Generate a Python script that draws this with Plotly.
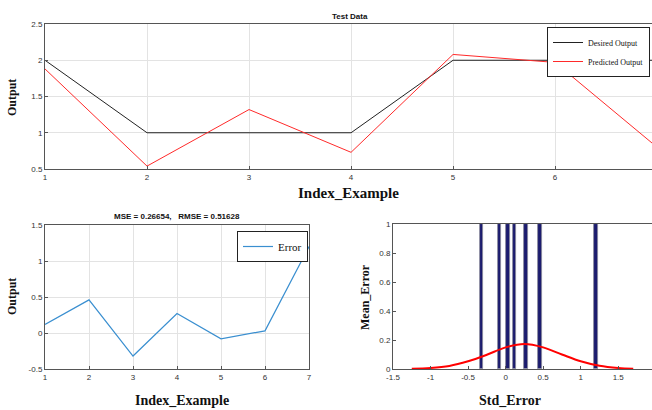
import plotly.graph_objects as go

# ---- data ----
index_example = [1, 2, 3, 4, 5, 6, 7]
desired_output = [2, 1, 1, 1, 2, 2, 2]
predicted_output = [1.88, 0.54, 1.32, 0.73, 2.08, 1.97, 0.80]
error_values = [0.12, 0.46, -0.32, 0.27, -0.08, 0.03, 1.20]
hist_counts = [1, 1, 1, 1, 1, 1, 1]
fit_x = [-1.25, -1.0, -0.75, -0.5, -0.25, 0.0, 0.25, 0.5, 0.75, 1.0, 1.25, 1.5, 1.7]
fit_y = [0.002, 0.007, 0.021, 0.053, 0.098, 0.149, 0.172, 0.149, 0.100, 0.053, 0.022, 0.007, 0.002]

W, H = 652, 410
def px(x): return x / W
def py(y): return 1 - y / H

axis_col = "#555555"
tick_font = dict(family="Liberation Sans, Arial", size=8, color="#333333")
grid_col = "#e3e3e3"

fig = go.Figure()

fig.add_trace(go.Scatter(x=index_example, y=desired_output, mode="lines",
                         line=dict(color="#222222", width=1), name="Desired Output",
                         xaxis="x", yaxis="y", legend="legend"))
fig.add_trace(go.Scatter(x=index_example, y=predicted_output, mode="lines",
                         line=dict(color="#ff2a2a", width=1), name="Predicted Output",
                         xaxis="x", yaxis="y", legend="legend"))
fig.add_trace(go.Scatter(x=index_example, y=error_values, mode="lines",
                         line=dict(color="#3a8fd0", width=1.2), name="Error",
                         xaxis="x2", yaxis="y2", legend="legend2"))
fig.add_trace(go.Bar(x=error_values, y=hist_counts, width=0.05,
                     marker=dict(color="#1c1c6e", line=dict(color="#8a8a9a", width=0.8)),
                     showlegend=False, xaxis="x3", yaxis="y3"))
fig.add_trace(go.Scatter(x=fit_x, y=fit_y, mode="lines", line=dict(color="#ff0000", width=2, shape="spline"),
                         showlegend=False, xaxis="x3", yaxis="y3"))

common = dict(showline=True, linecolor=axis_col, linewidth=1, mirror=True, ticks="inside",
              ticklen=3, tickcolor=axis_col, tickfont=tick_font, zeroline=False, automargin=False)

fig.update_layout(
    width=W, height=H, margin=dict(l=0, r=0, t=0, b=0, autoexpand=False),
    plot_bgcolor="white", paper_bgcolor="white", bargap=0,
    xaxis=dict(domain=[px(45), 1.0], range=[1, 6.95], tickvals=[1, 2, 3, 4, 5, 6],
               showgrid=True, gridcolor=grid_col, anchor="y", **common),
    yaxis=dict(domain=[py(169), py(24)], range=[0.5, 2.5], tickvals=[0.5, 1, 1.5, 2, 2.5],
               ticktext=["0.5", "1", "1.5", "2", "2.5"],
               showgrid=True, gridcolor=grid_col, anchor="x", **common),
    xaxis2=dict(domain=[px(45), px(309)], range=[1, 7], tickvals=[1, 2, 3, 4, 5, 6, 7],
                showgrid=True, gridcolor=grid_col, anchor="y2", **common),
    yaxis2=dict(domain=[py(369), py(225)], range=[-0.5, 1.5], tickvals=[-0.5, 0, 0.5, 1, 1.5],
                ticktext=["-0.5", "0", "0.5", "1", "1.5"],
                showgrid=True, gridcolor=grid_col, anchor="x2", **common),
    xaxis3=dict(domain=[px(393), 1.0], range=[-1.5, 1.95], tickvals=[-1.5, -1, -0.5, 0, 0.5, 1, 1.5],
                ticktext=["-1.5", "-1", "-0.5", "0", "0.5", "1", "1.5"],
                showgrid=False, anchor="y3", **common),
    yaxis3=dict(domain=[py(369), py(224)], range=[0, 1], tickvals=[0, 0.2, 0.4, 0.6, 0.8, 1],
                showgrid=False, anchor="x3", **common),
    legend=dict(x=px(650), y=py(27), xanchor="right", yanchor="top",
                bgcolor="white", bordercolor="#222222", borderwidth=1,
                font=dict(family="Liberation Serif, Times New Roman", size=8, color="#111111"),
                itemwidth=30, tracegroupgap=0),
    legend2=dict(x=px(237), y=py(231), xanchor="left", yanchor="top",
                 bgcolor="white", bordercolor="#222222", borderwidth=1,
                 font=dict(family="Liberation Serif, Times New Roman", size=11, color="#111111"),
                 itemwidth=30),
)

ann = []
def add(text, x, y, size, family, bold=True, angle=0, color="#111111"):
    t = f"<b>{text}</b>" if bold else text
    ann.append(dict(text=t, x=px(x), y=py(y), xref="paper", yref="paper", showarrow=False,
                    xanchor="center", yanchor="middle", textangle=angle,
                    font=dict(size=size, family=family, color=color)))

add("Test Data", 350, 16, 8, "Liberation Sans, Arial")
add("Index_Example", 348, 193, 15, "Liberation Serif, Times New Roman")
add("Output", 12, 98, 12, "Liberation Serif, Times New Roman", angle=-90)
add("MSE = 0.26654,   RMSE = 0.51628", 177, 216, 8, "Liberation Sans, Arial")
add("Index_Example", 182, 400, 14, "Liberation Serif, Times New Roman")
add("Output", 12, 297, 12, "Liberation Serif, Times New Roman", angle=-90)
add("Std_Error", 510, 400, 14, "Liberation Serif, Times New Roman")
add("Mean_Error", 365, 297, 12, "Liberation Serif, Times New Roman", angle=-90)
fig.update_layout(annotations=ann)

fig.write_html("out.html", config={"displayModeBar": False},
               post_script="document.body.style.margin='0';document.body.style.overflow='hidden';")
